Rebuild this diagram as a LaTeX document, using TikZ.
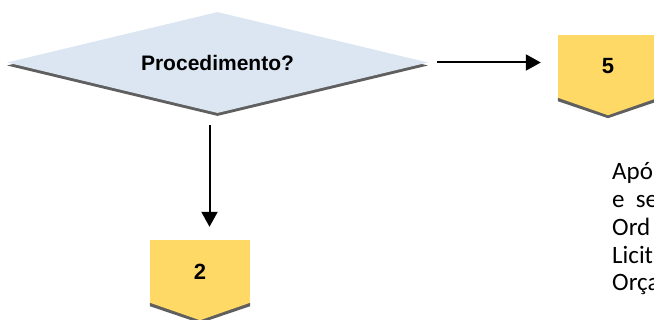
\documentclass[tikz,border=0pt]{standalone}
\usepackage{fontspec}
\setmainfont{Liberation Sans}
\newfontfamily\notefont{Carlito}
\usetikzlibrary{arrows.meta, shapes.geometric, shadows}

\definecolor{decblue}{HTML}{DCE6F2}
\definecolor{boxgold}{HTML}{FFD966}
\definecolor{shadegray}{HTML}{5F5F5F}

\begin{document}
\begin{tikzpicture}[
        x=1pt, y=-1pt,
        decision/.style={diamond, shape aspect=4.17, fill=decblue, minimum width=421pt, minimum height=101pt, inner sep=0pt,
            font=\bfseries\fontsize{21}{25}\selectfont,
            drop shadow={shadow xshift=0pt, shadow yshift=-3pt, fill=shadegray, opacity=1}},
        numbox/.style={rectangle, fill=boxgold, minimum width=100pt, minimum height=63pt, inner sep=0pt,
            font=\bfseries\fontsize{22}{26}\selectfont},
        line/.style={-{Triangle[length=15pt, width=16pt]}, line width=2pt}
    ]
    \useasboundingbox (0,0) rectangle (654,320);

    % Decision
    \node[decision] (proc) at (217.5,62.5) {Procedimento?};

    % Numbered boxes
    \node[numbox] (b5) at (608,66.5) {5};
    \node[numbox] (b2) at (200,271.5) {2};

    % Pointed bottoms with shadow
    \foreach \b in {b5,b2} {
        \fill[shadegray] (\b.south west) -- ([yshift=-3pt]\b.south west) -- ([yshift=-20pt]\b.south)
            -- ([yshift=-3pt]\b.south east) -- (\b.south east) -- cycle;
        \fill[boxgold] ([yshift=0.5pt]\b.south west) -- ([yshift=-17pt]\b.south) -- ([yshift=0.5pt]\b.south east) -- cycle;
    }

    % Arrows
    \draw[line, shorten <=9pt, shorten >=17pt] (proc.east) -- (proc.east -| b5.west);
    \draw[line, shorten <=12pt, shorten >=13pt] ([xshift=-8pt]proc.south) -- ([xshift=-8pt]proc.south |- b2.north);

    % Note (cut at the edge)
    \node[anchor=base west, align=left, inner sep=0pt, font=\notefont\fontsize{25}{27.7}\selectfont] (note)
        at (612,290.8) {Apó\\e\ \ se\\Ord\\Licit\\Orça};

\end{tikzpicture}
\end{document}
